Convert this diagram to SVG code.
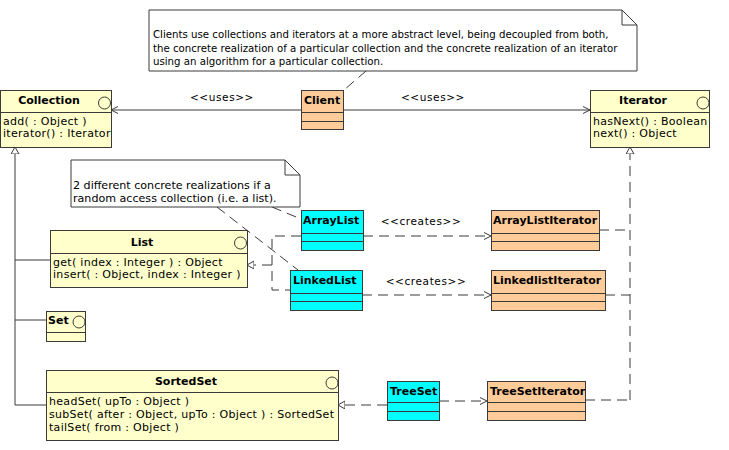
<svg xmlns="http://www.w3.org/2000/svg" width="729" height="450" viewBox="0 0 729 450">
<defs>
<style>
.box{stroke:#3a3a3a;stroke-width:1}
.yel{fill:#ffffcc}
.org{fill:#ffcc99}
.cyn{fill:#00ffff}
.div{stroke:#3a3a3a;stroke-width:1}
.ico{fill:none;stroke:#3a3a3a;stroke-width:1}
.t{font-family:"DejaVu Sans",Verdana,sans-serif;font-size:11px;letter-spacing:0.3px;fill:#000}
.n{font-family:"DejaVu Sans",Verdana,sans-serif;font-size:10.2px;fill:#000}
.n2{font-family:"DejaVu Sans",Verdana,sans-serif;font-size:11.1px;fill:#000}
.b{font-family:"DejaVu Sans",Verdana,sans-serif;font-size:11px;font-weight:bold;fill:#000}
.lab{font-family:"DejaVu Sans",Verdana,sans-serif;font-size:10.5px;fill:#000;letter-spacing:0.6px}
.ln{fill:none;stroke:#3a3a3a;stroke-width:1}
.dl{fill:none;stroke:#3a3a3a;stroke-width:1;stroke-dasharray:10,6}
.note{fill:#ffffff;stroke:#3a3a3a;stroke-width:1}
</style>
<marker id="open" markerWidth="10" markerHeight="10" refX="7" refY="4" orient="auto" markerUnits="userSpaceOnUse">
<path d="M0,0.5 L7,4 L0,7.5" fill="none" stroke="#3a3a3a" stroke-width="1"/>
</marker>
<marker id="tri" markerWidth="10" markerHeight="10" refX="7" refY="4" orient="auto" markerUnits="userSpaceOnUse">
<path d="M0,0 L7,4 L0,8 Z" fill="#ffffff" stroke="#3a3a3a" stroke-width="1"/>
</marker>
</defs>
<rect width="729" height="450" fill="#ffffff"/>

<g id="connectors">
<line class="ln" x1="301" y1="110" x2="111" y2="110" marker-end="url(#open)"/>
<line class="ln" x1="344" y1="110" x2="590" y2="110" marker-end="url(#open)"/>
<text class="lab" x="222" y="101" text-anchor="middle">&lt;&lt;uses&gt;&gt;</text>
<text class="lab" x="433" y="101" text-anchor="middle">&lt;&lt;uses&gt;&gt;</text>
<line class="dl" x1="366" y1="71" x2="344" y2="90"/>
<line class="dl" x1="272" y1="207" x2="301" y2="219"/>
<line class="dl" x1="217" y1="207" x2="298" y2="270"/>
<line class="dl" x1="363" y1="236" x2="491" y2="236" marker-end="url(#open)"/>
<line class="dl" x1="362" y1="295" x2="491" y2="295" marker-end="url(#open)"/>
<text class="lab" x="421" y="225" text-anchor="middle">&lt;&lt;creates&gt;&gt;</text>
<text class="lab" x="426" y="285" text-anchor="middle">&lt;&lt;creates&gt;&gt;</text>
<path class="dl" d="M301,236 H272 V290 H290"/>
<line class="dl" x1="272" y1="265" x2="247" y2="265" marker-end="url(#tri)"/>
<path class="ln" d="M15,260 H50 M15,320 H46 M15,405 H46"/>
<line class="ln" x1="15" y1="405" x2="15" y2="147" marker-end="url(#tri)"/>
<line class="dl" x1="387" y1="405" x2="338" y2="405" marker-end="url(#tri)"/>
<line class="dl" x1="439" y1="401" x2="487" y2="401" marker-end="url(#open)"/>
<path class="dl" d="M599,230 H630 M605,295 H630 M585,400 H630"/>
<line class="dl" x1="630" y1="400" x2="630" y2="147" marker-end="url(#tri)"/>
</g>

<g id="note1">
<path class="note" d="M149,10 H622 L637,25 V71 H149 Z"/>
<path class="ln" d="M622,10 V25 H637"/>
<text class="n" x="153" y="38">Clients use collections and iterators at a more abstract level, being decoupled from both,</text>
<text class="n" x="153" y="52">the concrete realization of a particular collection and the concrete realization of an iterator</text>
<text class="n" x="153" y="65">using an algorithm for a particular collection.</text>
</g>

<g id="note2">
<path class="note" d="M71,160 H285 L300,175 V207 H71 Z"/>
<path class="ln" d="M285,160 V175 H300"/>
<text class="n2" x="73" y="189">2 different concrete realizations if a</text>
<text class="n2" x="73" y="202">random access collection (i.e. a list).</text>
</g>

<g id="Collection">
<rect class="box yel" x="0.5" y="90.5" width="111" height="57"/>
<line class="div" x1="0" y1="112.5" x2="111.5" y2="112.5"/>
<circle class="ico" cx="104.5" cy="103" r="6"/>
<text class="b" x="49" y="104" text-anchor="middle">Collection</text>
<text class="t" x="3" y="125">add(  : Object )</text>
<text class="t" x="3" y="137">iterator() : Iterator</text>
</g>

<g id="Client">
<rect class="box org" x="301.5" y="90.5" width="42" height="39"/>
<line class="div" x1="301.5" y1="112.5" x2="343.5" y2="112.5"/>
<line class="div" x1="301.5" y1="121.5" x2="343.5" y2="121.5"/>
<text class="b" x="304" y="104">Client</text>
</g>

<g id="Iterator">
<rect class="box yel" x="590.5" y="90.5" width="119" height="57"/>
<line class="div" x1="590.5" y1="112.5" x2="709.5" y2="112.5"/>
<circle class="ico" cx="703" cy="103" r="6"/>
<text class="b" x="643" y="104" text-anchor="middle">Iterator</text>
<text class="t" x="593" y="125">hasNext() : Boolean</text>
<text class="t" x="593" y="137">next() : Object</text>
</g>

<g id="List">
<rect class="box yel" x="50.5" y="230.5" width="197" height="57"/>
<line class="div" x1="50.5" y1="253.5" x2="247.5" y2="253.5"/>
<circle class="ico" cx="240.5" cy="243" r="6"/>
<text class="b" x="142" y="246" text-anchor="middle">List</text>
<text class="t" x="53" y="266">get( index : Integer ) : Object</text>
<text class="t" x="53" y="278">insert(  : Object, index : Integer )</text>
</g>

<g id="Set">
<rect class="box yel" x="46.5" y="311.5" width="39" height="30"/>
<line class="div" x1="46.5" y1="332.5" x2="85.5" y2="332.5"/>
<circle class="ico" cx="79" cy="322" r="6"/>
<text class="b" x="48" y="324">Set</text>
</g>

<g id="SortedSet">
<rect class="box yel" x="46.5" y="370.5" width="292" height="70"/>
<line class="div" x1="46.5" y1="392.5" x2="338.5" y2="392.5"/>
<circle class="ico" cx="332" cy="383" r="6"/>
<text class="b" x="186" y="385" text-anchor="middle">SortedSet</text>
<text class="t" x="49" y="405">headSet( upTo : Object )</text>
<text class="t" x="49" y="418">subSet( after : Object, upTo : Object ) : SortedSet</text>
<text class="t" x="49" y="431">tailSet( from : Object )</text>
</g>

<g id="ArrayList">
<rect class="box cyn" x="301.5" y="210.5" width="62" height="40"/>
<line class="div" x1="301.5" y1="233.5" x2="363.5" y2="233.5"/>
<line class="div" x1="301.5" y1="241.5" x2="363.5" y2="241.5"/>
<text class="b" x="303" y="224">ArrayList</text>
</g>

<g id="LinkedList">
<rect class="box cyn" x="290.5" y="270.5" width="72" height="40"/>
<line class="div" x1="290.5" y1="293.5" x2="362.5" y2="293.5"/>
<line class="div" x1="290.5" y1="301.5" x2="362.5" y2="301.5"/>
<text class="b" x="293" y="284">LinkedList</text>
</g>

<g id="ArrayListIterator">
<rect class="box org" x="491.5" y="210.5" width="108" height="40"/>
<line class="div" x1="491.5" y1="233.5" x2="599.5" y2="233.5"/>
<line class="div" x1="491.5" y1="241.5" x2="599.5" y2="241.5"/>
<text class="b" x="493" y="224">ArrayListIterator</text>
</g>

<g id="LinkedlistIterator">
<rect class="box org" x="491.5" y="270.5" width="114" height="40"/>
<line class="div" x1="491.5" y1="293.5" x2="605.5" y2="293.5"/>
<line class="div" x1="491.5" y1="301.5" x2="605.5" y2="301.5"/>
<text class="b" x="493" y="284">LinkedlistIterator</text>
</g>

<g id="TreeSet">
<rect class="box cyn" x="387.5" y="381.5" width="52" height="39"/>
<line class="div" x1="387.5" y1="402.5" x2="439.5" y2="402.5"/>
<line class="div" x1="387.5" y1="411.5" x2="439.5" y2="411.5"/>
<text class="b" x="390" y="395">TreeSet</text>
</g>

<g id="TreeSetIterator">
<rect class="box org" x="487.5" y="381.5" width="98" height="39"/>
<line class="div" x1="487.5" y1="402.5" x2="585.5" y2="402.5"/>
<line class="div" x1="487.5" y1="411.5" x2="585.5" y2="411.5"/>
<text class="b" x="490" y="395">TreeSetIterator</text>
</g>
</svg>
